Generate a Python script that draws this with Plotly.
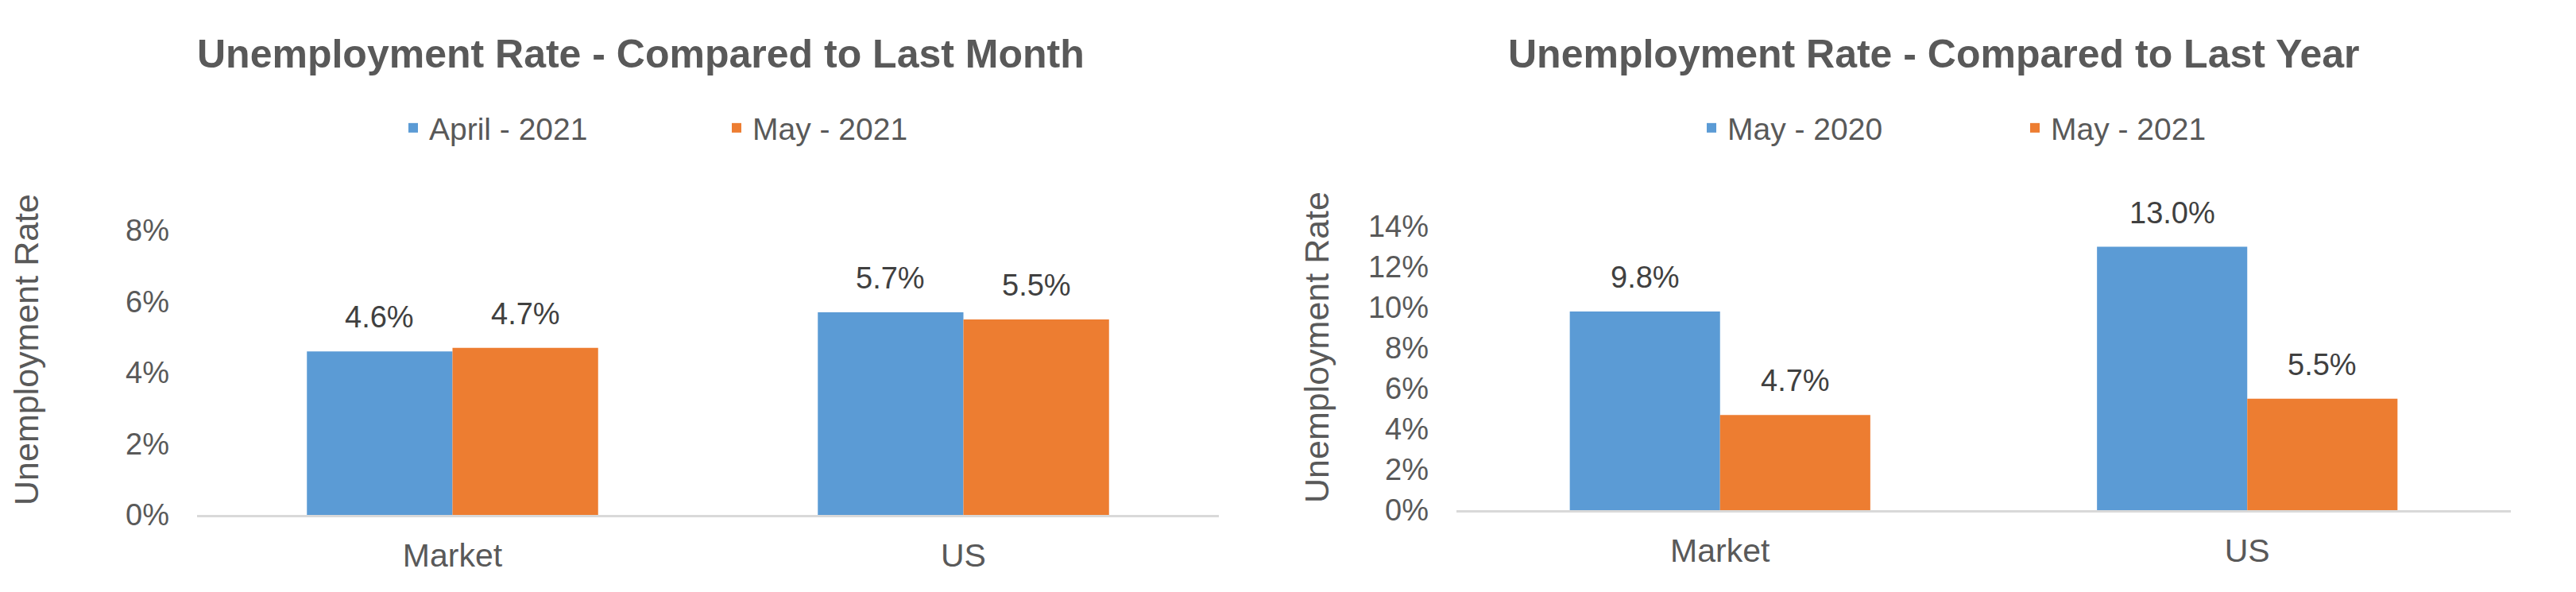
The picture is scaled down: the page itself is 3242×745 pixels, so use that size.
import plotly.graph_objects as go

W, H = 3242, 745

categories = ["Market", "US"]

# Left chart: compared to last month
month_series = ["April - 2021", "May - 2021"]
month_values = [[4.6, 5.7], [4.7, 5.5]]

# Right chart: compared to last year
year_series = ["May - 2020", "May - 2021"]
year_values = [[9.8, 13.0], [4.7, 5.5]]

left_ticks = [0, 2, 4, 6, 8]
right_ticks = [0, 2, 4, 6, 8, 10, 12, 14]

colors = ["#5B9BD5", "#ED7D31"]
TXT = "#595959"
LBL = "#404040"
FONT = "Liberation Sans, Arial, sans-serif"
BARGAP = 0.43

fig = go.Figure()

def add_bars(series, values, xa, ya, legend):
    for i, (name, vals) in enumerate(zip(series, values)):
        fig.add_trace(go.Bar(
            x=categories, y=vals, name=name,
            marker=dict(color=colors[i], line=dict(width=0)),
            xaxis=xa, yaxis=ya, legend=legend,
            hoverinfo="skip",
        ))
        # data labels above bars
        off = (1 - BARGAP) / 4 * (-1 if i == 0 else 1)
        for j, v in enumerate(vals):
            fig.add_annotation(
                x=j + off, y=v, xref=xa, yref=ya,
                text=f"{v:.1f}%", showarrow=False,
                yanchor="middle", yshift=43,
                font=dict(family=FONT, size=38, color=LBL),
            )

add_bars(month_series, month_values, "x", "y", "legend")
add_bars(year_series, year_values, "x2", "y2", "legend2")

yaxis_common = dict(
    showgrid=False, zeroline=False, automargin=False,
    showline=False, ticks="", ticklabelstandoff=34,
    tickfont=dict(family=FONT, size=38, color=TXT),
)
xaxis_common = dict(
    showgrid=False, zeroline=False, automargin=False,
    showline=True, linecolor="#D9D9D9", linewidth=3,
    ticks="", ticklabelstandoff=13,
    tickfont=dict(family=FONT, size=41, color=TXT),
)

fig.update_layout(
    template="none",
    width=W, height=H,
    margin=dict(l=0, r=0, t=0, b=0, pad=0, autoexpand=False),
    paper_bgcolor="white", plot_bgcolor="white",
    barmode="group", bargap=BARGAP, bargroupgap=0,
    showlegend=True,
    xaxis=dict(domain=[248 / W, 1534 / W], anchor="y", **xaxis_common),
    yaxis=dict(domain=[97 / H, 455 / H], anchor="x", range=[0, 8],
               tickvals=left_ticks, ticktext=[f"{t}%" for t in left_ticks],
               **yaxis_common),
    xaxis2=dict(domain=[1833 / W, 3160 / W], anchor="y2", **xaxis_common),
    yaxis2=dict(domain=[103 / H, 460 / H], anchor="x2", range=[0, 14],
                tickvals=right_ticks, ticktext=[f"{t}%" for t in right_ticks],
                **yaxis_common),
    legend=dict(orientation="h", x=500 / W, xanchor="left",
                y=(H - 161) / H, yanchor="middle",
                font=dict(family=FONT, size=39, color=TXT),
                entrywidth=362, entrywidthmode="pixels",
                bgcolor="rgba(0,0,0,0)", borderwidth=0),
    legend2=dict(orientation="h", x=2134 / W, xanchor="left",
                 y=(H - 161) / H, yanchor="middle",
                 font=dict(family=FONT, size=39, color=TXT),
                 entrywidth=362, entrywidthmode="pixels",
                 bgcolor="rgba(0,0,0,0)", borderwidth=0),
)

titles = [("Unemployment Rate - Compared to Last Month", 806),
          ("Unemployment Rate - Compared to Last Year", 2434)]
for text, xc in titles:
    fig.add_annotation(
        x=xc / W, y=(H - 68) / H, xref="paper", yref="paper",
        text=f"<b>{text}</b>", showarrow=False,
        xanchor="center", yanchor="middle",
        font=dict(family=FONT, size=50, color=TXT),
    )

for xc, yc in [(33, 440), (1657, 437)]:
    fig.add_annotation(
        x=xc / W, y=(H - yc) / H, xref="paper", yref="paper",
        text="Unemployment Rate", showarrow=False, textangle=-90,
        xanchor="center", yanchor="middle",
        font=dict(family=FONT, size=43, color=TXT),
    )

fig.write_html("out.html")
